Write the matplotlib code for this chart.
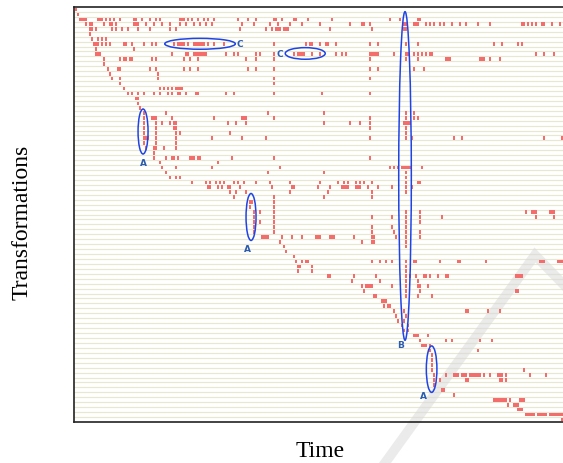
import matplotlib
matplotlib.use("Agg")
import matplotlib.pyplot as plt
from matplotlib.patches import Ellipse
from matplotlib.lines import Line2D

N_ROWS = 84
N_STEPS = 246

# time steps at which each transformation is active, one string per row ("a-b" = run)
transformation_events = [
    "1",
    "2",
    "3-6 12-14 16 18 20 23 30-31 34 38 41 43 53-55 57 59 62 65 67 70 82 87 91 100-101 104 110-111 117 129 158 163 172-173",
    "6 8-9 15 18-19 21 30-32 36 40 44 48 53 56 60 63 66 69 84 90 98 102 108 114 123 138 144-145 148 165-166 170-172 176 178 180 183 185 189 193 196 202 208 224-225 227 229 231 234-235 239 243",
    "8-9 11 19 21 24 27 32 38 48 51 83 96 99 101-103 105-107 128 149 165-166",
    "8",
    "9 12 14 16",
    "10-12 14 16 18 25-26 29 35 39 41 50 52-55 57 60-65 67 70 75 100 116 118-119 123 126-127 131 148 152 166 172 210 214 222 224",
    "11 30",
    "11-13 49 56-57 60-66 76 80 82 91 93 100 110 112-115 119 123 131 134 136 148-152 160 166-167 170 172 174 176 178-179 231 235 240",
    "15 23 25-26 28-29 39 41 55 58 62 86 91 100 148 166 172 186-188 203-205 208 213",
    "15",
    "17 22-23 38 41 55 58 62 87 91 100 148 152 170 175",
    "18 42",
    "19 23 42 100 148",
    "23 100",
    "25 43 45 47 49 51-54",
    "27 29 32 35 40 43 47 49 52-53 56 61-62 76 80 100 124 148",
    "31-32",
    "32",
    "33",
    "35 46 97 125 166 170",
    "35 39-41 49 70 84-86 100 148 166 170 172",
    "35 41 44 48 50-51 77 81 86 125 138 143 148 165-168",
    "35 41 50-51 148 166",
    "35 41 51 53 78 166",
    "35-37 41 51 69 84 96 148 166 169 190 194 235 244",
    "35 41 51",
    "36 40-41 45 51",
    "40",
    "40 46 49-50 52 58-60 62-63 79 100 148",
    "43 72",
    "44 51 69 103 158 160 162 164-168 174",
    "46 97 125 166",
    "48 51 53 166",
    "59 66 68 71 73 75 80 82 85 91 98 108 123 132 135 137 141 143 145 149 166 172-173 245",
    "67-68 72 74 77-78 83 99 109-110 122 128 134-137 141-143 147 152 159 166 169",
    "78 81 86 108 127 149 166",
    "80 100 125 149",
    "88-89 100",
    "88 100",
    "90 93 100 166 173 226 229-231 238-240",
    "90 100 149 159 166 173 184 231 240",
    "90 93 100 166 173",
    "90 100 149 159 166",
    "90 100 149 160 166 173",
    "94-97 104 109 114 121-123 128-130 140 149-150 161 166 173",
    "103 144 149-150 166",
    "105 166",
    "106",
    "110",
    "111 114 116-117 149 153 156 159 166 170-171 183 192-193 206 233-235 242-244",
    "112-113 119 166",
    "112 119 166",
    "127-128 140 151 166 168 171 175-176 178 182 186-187 221-224",
    "139 153 166 172",
    "144 146-149 159 166 172-173 177",
    "145 166 173 221-222 245",
    "150-151 166 172 179 245",
    "154-156",
    "155 157-158",
    "160 165 196-197 207 213",
    "161 166",
    "162 165",
    "164 167",
    "165 167",
    "170-172 177",
    "173 186 189 203 209",
    "174-176 178",
    "178 202",
    "179",
    "179",
    "179",
    "179 225",
    "180 186 190-192 194-196 198-203 205 208 212-214 216 228 236",
    "180 183 196-197 213-214 216",
    "180",
    "184-185",
    "190",
    "210-216 218 223-225",
    "217 220-222",
    "222-224",
    "226-230 232-236 238-245",
    "244",
]

highlight_labels = ["C", "C", "A", "A", "A", "B"]


def parse_steps(spec):
    steps = []
    for part in spec.split():
        if "-" in part:
            a, b = part.split("-")
            steps.extend(range(int(a), int(b) + 1))
        else:
            steps.append(int(part))
    return steps


fig = plt.figure(figsize=(5.63, 4.64), dpi=100)
ax = fig.add_axes([74 / 563, 41 / 464, 491 / 563, 415 / 464])
ax.set_xlim(0.67, N_STEPS + 0.2)
ax.set_ylim(N_ROWS, 0)

for r in range(1, N_ROWS):
    ax.axhline(r, color="#e8e8d2", lw=0.9, zorder=1)

# faint watermark stroke (drawn under the marks)
ax.add_line(Line2D([385 / 563, 535 / 563, 1.0], [0.0, 1 - 256 / 464, 1 - 285 / 464],
                   transform=fig.transFigure, clip_on=False, color="#d8d8d8",
                   alpha=0.5, lw=7, zorder=2, solid_joinstyle="miter"))

for r, spec in enumerate(transformation_events):
    steps = parse_steps(spec)
    ax.broken_barh([(t, 1) for t in steps], (r + 0.13, 0.74),
                   facecolors="#f36d6d", zorder=3)

# highlighted regions: centre, width, height, label position
shapes = [
    ((63.7, 7.45), 35.3, 2.2, (83.7, 7.45)),
    ((116.3, 9.4), 20, 2.35, (103.7, 9.4)),
    ((35.2, 25.2), 5, 9.1, (35.2, 31.4)),
    ((89.2, 42.5), 5, 9.5, (87.5, 48.8)),
    ((179.5, 73.3), 5.3, 9.4, (175.5, 78.6)),
    ((166.2, 34.2), 6.3, 66.5, (164.2, 68.3)),
]
for (centre, w, h, lab_pos), lab in zip(shapes, highlight_labels):
    ax.add_patch(Ellipse(centre, w, h, fill=False, edgecolor="#1f44e6", lw=1.1, zorder=4))
    ax.text(lab_pos[0], lab_pos[1], lab, ha="center", va="center", fontsize=6.5,
            fontweight="bold", color="#2a5cb0", zorder=5)

ax.set_xticks([])
ax.set_yticks([])
for side in ["left", "top", "bottom"]:
    ax.spines[side].set_linewidth(1.2)
    ax.spines[side].set_color("#222222")
ax.spines["right"].set_visible(False)

fig.text(320 / 563, 1 - 452 / 464, "Time", ha="center", va="center",
         family="Liberation Serif", fontsize=17)
fig.text(22 / 563, 1 - 222 / 464, "Transformations", ha="center", va="center",
         rotation=90, family="Liberation Serif", fontsize=17)

fig.savefig("out.png", dpi=100)
